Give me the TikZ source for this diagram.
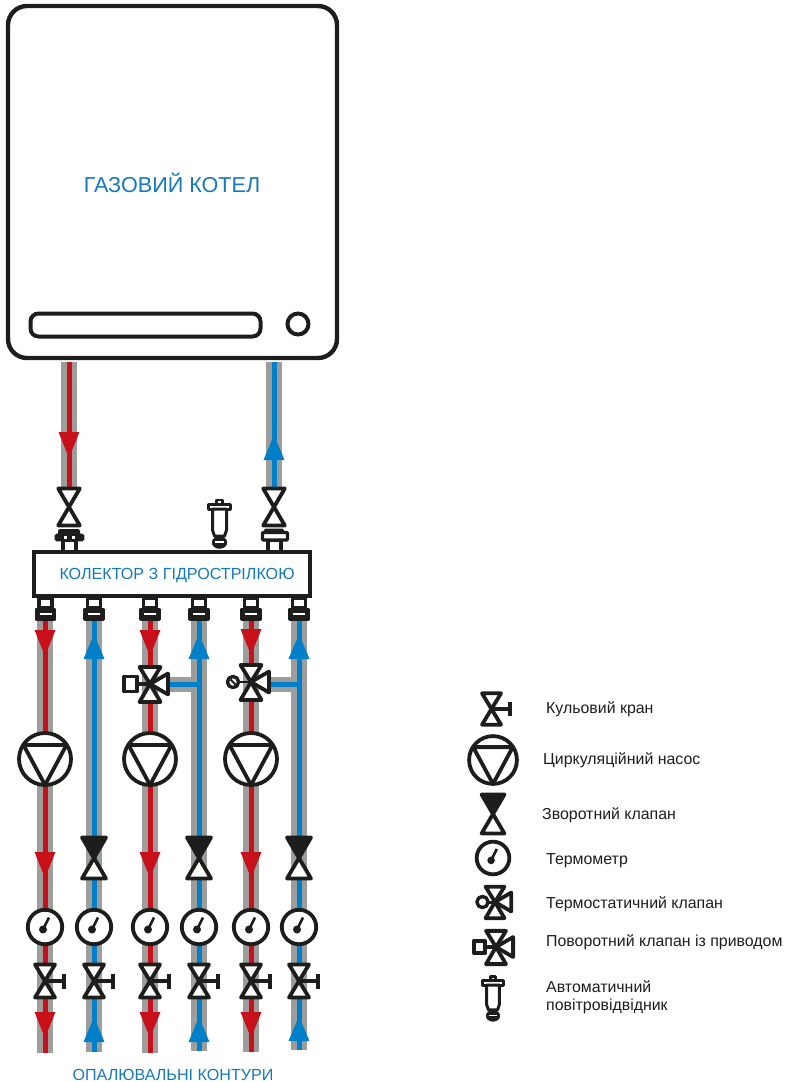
\documentclass[tikz,border=0pt]{standalone}
\usepackage{fontspec}
\setmainfont{Liberation Sans}
\definecolor{pred}{HTML}{C8101A}
\definecolor{pblue}{HTML}{0080C8}
\definecolor{pgrey}{HTML}{9D9D9B}
\definecolor{ink}{HTML}{1D1D1B}
\definecolor{tblue}{HTML}{1478BE}
\tikzset{
  sym/.style={draw=ink,line width=3.8pt,line join=round,fill=white},
  greypipe/.style={draw=pgrey,line width=16pt},
  hot/.style={draw=pred,line width=5pt},
  cold/.style={draw=pblue,line width=5pt},
  blue label/.style={text=tblue,inner sep=0pt,anchor=center},
  legend label/.style={text=ink,inner sep=0pt,anchor=west,font=\fontsize{15.9}{18}\selectfont,align=left},
  pics/bowtie/.style={code={
    \path[sym] (-10.8,-18.5)--(10.8,-18.5)--(-10.8,18.5)--(10.8,18.5)--cycle;
  }},
  pics/ball/.style={code={
    \path[sym] (-10,-16.5)--(10,-16.5)--(-10,16.5)--(10,16.5)--cycle;
    \draw[ink,line width=4pt] (0,0)--(18,0);
    \draw[ink,line width=4pt] (19,-7.5)--(19,7.5);
  }},
  pics/check/.style={code={
    \path[sym] (0,0)--(12,20.5)--(-12,20.5)--cycle;
    \path[draw=ink,fill=ink,line width=3.8pt,line join=round] (-12,-20.5)--(12,-20.5)--(0,0)--cycle;
  }},
  pics/gauge/.style={code={
    \path[sym] (0,0) circle (17.2);
    \fill[ink] (-2,2.5) circle (4);
    \draw[ink,line width=2.6pt] (-2,2.5)--(4,-9.5);
  }},
  pics/pump/.style={code={
    \path[sym] (0,0) circle (26);
    \draw[ink,line width=3.8pt,line join=round] (-21.5,-14)--(21.5,-14)--(0,26)--cycle;
  }},
  pics/threeway/.style={code={
    \path[sym] (-10.5,-17)--(10.5,-17)--(0,0)--cycle;
    \path[sym] (-10.5,18)--(10.5,18)--(0,0)--cycle;
    \path[sym] (18,-10.5)--(18,10.5)--(0,0)--cycle;
  }},
  pics/drive/.style={code={
    \draw[ink,line width=3.8pt] (-14,0)--(0,0);
    \path[sym] (-26,-7.5)rectangle(-13,7.5);
  }},
  pics/thermo/.style={code={
    \draw[ink,line width=2.8pt] (-14,0)--(0,0);
    \path[sym,line width=3.4pt] (-18,0) circle (5.6);
    \draw[ink,line width=1.8pt] (-20.5,-2.5)--(-15.5,2.5);
  }},
  pics/ventpic/.style={code={
    \path[draw=ink,fill=white,line width=2.6pt,line join=round] (-3,-22)rectangle(3,-18);
    \path[draw=ink,fill=white,line width=3pt,line join=round] (-11,-18)rectangle(11,-13);
    \path[draw=ink,fill=white,line width=3pt,line join=round] (-7,-13)--(7,-13)--(7,8)--(5,14)--(-5,14)--(-7,8)--cycle;
    \path[draw=ink,fill=ink] (0,20.5) ellipse (7.5 and 6);
    \draw[white,line width=1.2pt] (-4.5,20)--(4.5,20);
  }},
  pics/downfit/.style={code={
    \path[draw=ink,fill=white,line width=3.4pt] (-6.5,0)rectangle(6.5,9);
    \path[draw=ink,fill=ink,line join=round,line width=2.6pt] (-9.5,10.5)rectangle(9.5,21);
    \fill[white] (-6,14.5)rectangle(6,16);
  }},
}
\newcommand{\downarrowhead}[3][pred]{\fill[#1] (#2-10.5,#3)--(#2+10.5,#3)--(#2,#3+26)--cycle;}
\newcommand{\uparrowhead}[3][pblue]{\fill[#1] (#2-10.5,#3)--(#2+10.5,#3)--(#2,#3-25)--cycle;}
\begin{document}
\begin{tikzpicture}[x=1pt,y=-1pt]
\useasboundingbox (0,0) rectangle (789,1082);
% boiler
\node[draw=ink,line width=4.4pt,rounded corners=19pt,minimum width=329pt,minimum height=352pt,inner sep=0pt] (boiler) at (172.5,182) {};
\node[draw=ink,line width=4pt,rounded corners=8pt,minimum width=230pt,minimum height=23pt,inner sep=0pt] (slot) at (145.5,325) {};
\node[draw=ink,line width=4pt,circle,minimum size=21pt,inner sep=0pt] (lamp) at (298,324) {};
\node[blue label,font=\fontsize{21.6}{24}\selectfont] (boilerlabel) at (172,182.5) {ГАЗОВИЙ КОТЕЛ};
% pipes
\coordinate (hs) at (69,362); \coordinate (he) at (69,490);
\coordinate (cs) at (274,362); \coordinate (ce) at (274,490);
\draw[greypipe] (hs)--(he); \draw[hot] (hs)--(he);
\draw[greypipe] (cs)--(ce); \draw[cold] (cs)--(ce);
\foreach \n/\x/\e/\k in {a/45/1053/hot,b/94/1052/cold,c/150/1053/hot,d/199/1051/cold,e/251/1052/hot,f/299/1050/cold}{
  \coordinate (\n t) at (\x,620);
  \coordinate (\n b) at (\x,\e);
  \draw[greypipe] (\n t)--(\n b);
}
% branches
\coordinate (brc) at (165,684.5); \coordinate (brd) at (199,684.5);
\coordinate (bre) at (266,684); \coordinate (brf) at (299,684);
\draw[greypipe,line width=15pt] (brc)--(brd);
\draw[greypipe,line width=15pt] (bre)--(brf);
\draw[greypipe] (dt)--(db);
\draw[greypipe] (ft)--(fb);
\draw[cold] (brc)--(brd);
\draw[cold] (bre)--(brf);
\foreach \n/\k in {a/hot,b/cold,c/hot,d/cold,e/hot,f/cold}{ \draw[\k] (\n t)--(\n b); }
% arrowheads
\downarrowhead{69}{432}
\uparrowhead{274}{460}
\foreach \x/\y in {45/630,150/630,251/629,45/852,150/852,251/852,45/1012,150/1012,251/1012}{\downarrowhead{\x}{\y}}
\foreach \x/\y in {94/659,199/659,299/659,94/1042,199/1042,299/1041}{\uparrowhead{\x}{\y}}
% boiler feed valves and fittings
\pic at (69,507) {bowtie};
\pic at (274,507) {bowtie};
\path[draw=ink,fill=white,line width=3.4pt] (63,540)rectangle(76,552);
\path[draw=ink,fill=ink,line width=2pt,rounded corners=1pt] (59,530)rectangle(79,536);
\path[draw=ink,fill=ink,line width=2.6pt,rounded corners=1pt] (56,535)rectangle(83,540);
\fill[white] (63.5,535.5)rectangle(66.5,539);
\fill[white] (72,535.5)rectangle(75,539);
\path[draw=ink,fill=white,line width=3.4pt] (268,540)rectangle(281,552);
\path[draw=ink,fill=ink,line width=2pt,rounded corners=1pt] (265,529.5)rectangle(283,533);
\path[draw=ink,fill=white,line width=3.4pt,rounded corners=1pt] (262.5,532.5)rectangle(287.5,540);
\pic at (219.5,522) {ventpic};
% manifold
\node[draw=ink,line width=4.6pt,fill=white,minimum width=276pt,minimum height=44pt,inner sep=0pt] (manifold) at (172,574) {};
\node[blue label,font=\fontsize{16.1}{18}\selectfont] (manifoldlabel) at (177,575) {КОЛЕКТОР З ГІДРОСТРІЛКОЮ};
\foreach \x in {45.5,94,150,199,251,299}{\pic at (\x,598.5) {downfit};}
% three-way valves
\pic at (150,684) {drive};
\pic at (150,684) {threeway};
\pic at (251,682) {thermo};
\pic at (251,682) {threeway};
% pumps
\foreach \x in {45,150,251}{\pic at (\x,759) {pump};}
% check valves
\foreach \x in {94,199,299}{\pic at (\x,858) {check};}
% gauges
\foreach \x in {45,94,150,199,251,299}{\pic at (\x,927) {gauge};}
% ball valves
\foreach \x in {45,94,150,199,251,299}{\pic at (\x,981) {ball};}
\node[blue label,font=\fontsize{16.1}{18}\selectfont] (circuits) at (173,1075) {ОПАЛЮВАЛЬНІ КОНТУРИ};
% legend
\pic[scale=.95] at (491.5,709) {ball};
\pic[scale=.92] at (493,760) {pump};
\pic[scale=.95] at (493,814) {check};
\pic[scale=.95] at (493,858) {gauge};
\draw[ink,line width=3pt] (482,902)--(495,902);
\path[sym,line width=3.4pt] (482.5,902) circle (5.6);
\pic[scale=.9] at (495,902) {threeway};
\pic[scale=.85] at (496,947) {drive};
\pic[scale=.95] at (496,947) {threeway};
\pic[scale=.92] at (493,997) {ventpic};
\node[legend label] (l1) at (546,709.5) {Кульовий кран};
\node[legend label] (l2) at (543,760.5) {Циркуляційний насос};
\node[legend label] (l3) at (542,815.5) {Зворотний клапан};
\node[legend label] (l4) at (546,860.5) {Термометр};
\node[legend label] (l5) at (546,904.5) {Термостатичний клапан};
\node[legend label] (l6) at (546,942.5) {Поворотний клапан із приводом};
\node[legend label] (l7) at (546,997) {Автоматичний\\повітровідвідник};
\end{tikzpicture}
\end{document}
